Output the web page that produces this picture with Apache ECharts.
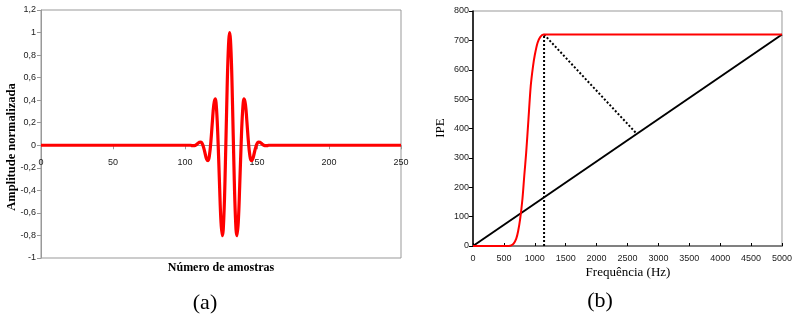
<!DOCTYPE html>
<html><head><meta charset="utf-8">
<script src="https://cdn.jsdelivr.net/npm/echarts@6/dist/echarts.min.js"></script>
<style>html,body{margin:0;padding:0;background:#fff}#c{width:795px;height:320px}</style>
</head><body><div id="c"></div><script>
// Panel (a): normalised wavelet, samples 0..250 (zero outside the listed window)
const sampleCount = 251;
const waveStart = 105;
const waveAmplitude = [
  -0.004,-0.004,-0.001,0.006,0.017,0.027,0.029,0.014,-0.023,-0.075,-0.122,-0.136,-0.087,
  0.037,0.207,0.361,0.411,0.300,0.018,-0.356,-0.681,-0.802,-0.629,-0.191,0.364,0.823,
  1.000,
  0.823,0.364,-0.191,-0.629,-0.802,-0.681,-0.356,0.018,0.300,0.411,0.361,0.207,0.037,
  -0.087,-0.136,-0.122,-0.075,-0.023,0.014,0.029,0.027,0.017,0.006,-0.001,-0.004,-0.004
];
// Panel (b): IPE vs frequency
const redFreq = [0, 580, 620, 660, 700, 730, 765, 800, 830, 860, 897, 934, 970, 1000, 1045, 1090, 1140, 5000];
const redIPE  = [0, 0,   2,   9,   25,  50,  95,  160, 240, 316, 430, 544, 610, 650,  692,  712,  720,  720];
const blackFreq = [0, 5000];
const blackIPE  = [0, 720];
const dotVertFreq = [1150, 1150];
const dotVertIPE  = [0, 720];
const dotDiagFreq = [1150, 2650];
const dotDiagIPE  = [720, 382];

const waveData = [];
for (let i = 0; i < sampleCount; i++) {
  const k = i - waveStart;
  waveData.push([i, (k >= 0 && k < waveAmplitude.length) ? waveAmplitude[k] : 0]);
}
const zip = (a, b) => a.map((v, i) => [v, b[i]]);

const chart = echarts.init(document.getElementById('c'), null, {renderer: 'canvas'});
const lblA = {fontFamily: 'Liberation Sans, Arial', fontSize: 9, color: '#222'};
const plain = v => String(v);
// zero line of panel (a) sits 1/2.2 of the plot height below the top
const zeroOffsetA = -(248 * 1.0 / 2.2);
chart.setOption({
  animation: false,
  backgroundColor: '#fff',
  grid: [
    {left: 41, top: 10, width: 360, height: 248, show: true, borderColor: '#999', borderWidth: 1},
    {left: 473, top: 11, width: 316, height: 235, show: true, borderColor: '#999', borderWidth: 1}
  ],
  xAxis: [
    {gridIndex: 0, type: 'value', min: 0, max: 250, interval: 50, offset: zeroOffsetA,
     axisLine: {onZero: false, lineStyle: {color: '#999'}},
     axisTick: {show: true, length: 4, lineStyle: {color: '#999'}},
     axisLabel: Object.assign({margin: 13, formatter: plain}, lblA),
     splitLine: {show: false}},
    {gridIndex: 1, type: 'value', min: 0, max: 5000, interval: 500,
     axisLine: {onZero: false, lineStyle: {color: '#808080', width: 2}},
     axisTick: {show: true, inside: true, length: 3, lineStyle: {color: '#000'}},
     axisLabel: Object.assign({margin: 8, formatter: plain}, lblA),
     splitLine: {show: false}}
  ],
  yAxis: [
    {gridIndex: 0, type: 'value', min: -1, max: 1.2, interval: 0.2,
     axisLine: {show: true, lineStyle: {color: '#999'}},
     axisTick: {show: true, length: 4, lineStyle: {color: '#999'}},
     axisLabel: Object.assign({margin: 5, formatter: v => String(Math.round(v * 10) / 10).replace('.', ',')}, lblA),
     splitLine: {show: false}},
    {gridIndex: 1, type: 'value', min: 0, max: 800, interval: 100,
     axisLine: {show: true, lineStyle: {color: '#000', width: 1.5}},
     axisTick: {show: true, length: 4, lineStyle: {color: '#000'}},
     axisLabel: Object.assign({margin: 4, formatter: plain}, lblA),
     splitLine: {show: false}}
  ],
  series: [
    {type: 'line', xAxisIndex: 0, yAxisIndex: 0, data: waveData, smooth: 0.4, showSymbol: false,
     lineStyle: {color: '#ff0000', width: 3.2}},
    {type: 'line', xAxisIndex: 1, yAxisIndex: 1, data: zip(blackFreq, blackIPE), showSymbol: false,
     lineStyle: {color: '#000', width: 2}},
    {type: 'line', xAxisIndex: 1, yAxisIndex: 1, data: zip(dotVertFreq, dotVertIPE), showSymbol: false,
     lineStyle: {color: '#000', width: 2, type: [2, 2]}},
    {type: 'line', xAxisIndex: 1, yAxisIndex: 1, data: zip(dotDiagFreq, dotDiagIPE), showSymbol: false,
     lineStyle: {color: '#000', width: 2, type: [2, 2]}},
    {type: 'line', xAxisIndex: 1, yAxisIndex: 1, data: zip(redFreq, redIPE), smooth: 0.3, showSymbol: false,
     lineStyle: {color: '#ff0000', width: 2}}
  ],
  graphic: [
    {type: 'text', x: 12, y: 147, rotation: Math.PI / 2,
     style: {text: 'Amplitude normalizada', font: 'bold 12.5px "Liberation Serif", "Times New Roman", serif', fill: '#000', align: 'center', verticalAlign: 'middle'}},
    {type: 'text', x: 221, y: 268,
     style: {text: 'Número de amostras', font: 'bold 12px "Liberation Serif", "Times New Roman", serif', fill: '#000', align: 'center', verticalAlign: 'middle'}},
    {type: 'text', x: 205, y: 303,
     style: {text: '(a)', font: '22px "Liberation Serif", "Times New Roman", serif', fill: '#000', align: 'center', verticalAlign: 'middle'}},
    {type: 'text', x: 441, y: 128, rotation: Math.PI / 2,
     style: {text: 'IPE', font: '13px "Liberation Serif", "Times New Roman", serif', fill: '#000', align: 'center', verticalAlign: 'middle'}},
    {type: 'text', x: 628, y: 273,
     style: {text: 'Frequência (Hz)', font: '13px "Liberation Serif", "Times New Roman", serif', fill: '#000', align: 'center', verticalAlign: 'middle'}},
    {type: 'text', x: 600, y: 301,
     style: {text: '(b)', font: '22px "Liberation Serif", "Times New Roman", serif', fill: '#000', align: 'center', verticalAlign: 'middle'}}
  ]
});
</script></body></html>
